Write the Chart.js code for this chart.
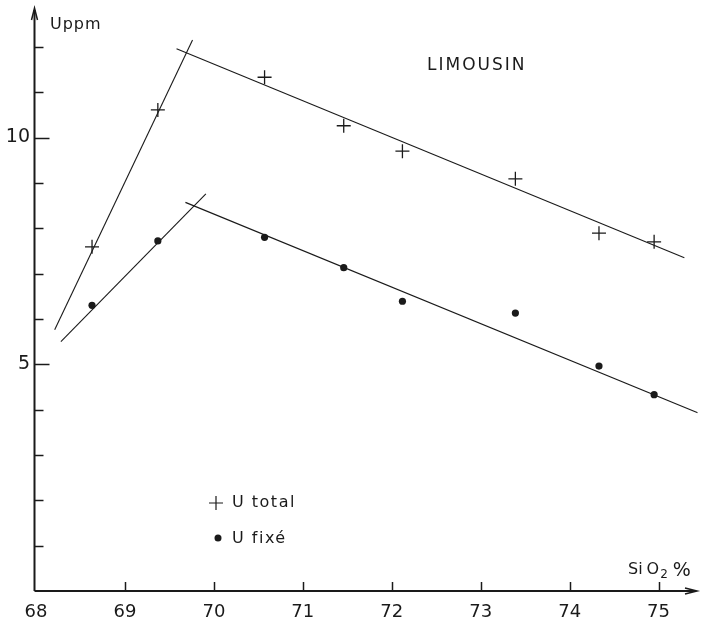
<!DOCTYPE html>
<html>
<head>
<meta charset="utf-8">
<script src="https://cdn.jsdelivr.net/npm/chart.js@4/dist/chart.umd.min.js"></script>
<style>
  html, body { margin: 0; padding: 0; background: #fff; }
  #wrap { width: 706px; height: 624px; position: relative; }
</style>
</head>
<body>
<div id="wrap"><canvas id="chart"></canvas></div>
<script>
// SiO2 % of each sample
const sio2 = [68.63, 69.37, 70.57, 71.46, 72.12, 73.39, 74.33, 74.95];
// U ppm
const uTotal = [7.59, 10.61, 11.33, 10.26, 9.70, 9.09, 7.89, 7.70];
const uFixe = [6.30, 7.72, 7.80, 7.13, 6.39, 6.13, 4.96, 4.33];

// hand-drawn trend lines (end points)
const totalRise = [[68.21, 5.76], [69.76, 12.15]];
const totalFall = [[69.58, 11.96], [75.29, 7.35]];
const fixeRise = [[68.28, 5.50], [69.91, 8.76]];
const fixeFall = [[69.68, 8.57], [75.44, 3.93]];

const xTicks = [68, 69, 70, 71, 72, 73, 74, 75];
const yTicks = [0, 1, 2, 3, 4, 5, 6, 7, 8, 9, 10, 11, 12];
const yLabelled = [5, 10];

const ink = '#1a1a1a';
const font = '"DejaVu Sans", "Liberation Sans", sans-serif';

const pts = (xs, ys) => xs.map((x, i) => ({ x: x, y: ys[i] }));
const seg = (s) => s.map(p => ({ x: p[0], y: p[1] }));

const lineSet = (s) => ({
  type: 'line',
  data: seg(s),
  borderColor: ink,
  borderWidth: 1.1,
  pointRadius: 0,
  fill: false
});

// axes with arrows, inward ticks, legend and captions
const decor = {
  id: 'decor',
  afterDraw(chart) {
    const ctx = chart.ctx;
    const xs = chart.scales.x;
    const ys = chart.scales.y;
    const x0 = chart.chartArea.left - 1.5;
    const y0 = ys.getPixelForValue(0);
    ctx.save();
    ctx.strokeStyle = ink;
    ctx.fillStyle = ink;
    ctx.lineWidth = 2;

    // y axis
    ctx.beginPath();
    ctx.moveTo(x0, y0);
    ctx.lineTo(x0, 10);
    ctx.stroke();
    ctx.lineWidth = 1.5;
    ctx.beginPath();
    ctx.moveTo(x0 - 3, 20);
    ctx.lineTo(x0, 8);
    ctx.lineTo(x0 + 3, 20);
    ctx.stroke();

    // x axis
    ctx.lineWidth = 2;
    ctx.beginPath();
    ctx.moveTo(x0, y0);
    ctx.lineTo(695, y0);
    ctx.stroke();
    ctx.lineWidth = 1.5;
    ctx.beginPath();
    ctx.moveTo(685, y0 - 3);
    ctx.lineTo(697, y0);
    ctx.lineTo(685, y0 + 3);
    ctx.stroke();

    // ticks
    ctx.lineWidth = 1.5;
    yTicks.forEach(v => {
      if (v === 0) return;
      const py = Math.round(ys.getPixelForValue(v)) + 0.5;
      const len = yLabelled.includes(v) ? 15 : 9;
      ctx.beginPath();
      ctx.moveTo(x0, py);
      ctx.lineTo(x0 + len, py);
      ctx.stroke();
    });
    xTicks.forEach(v => {
      if (v === 68) return;
      const px = Math.round(xs.getPixelForValue(v)) + 0.5;
      ctx.beginPath();
      ctx.moveTo(px, y0);
      ctx.lineTo(px, y0 - 9);
      ctx.stroke();
    });

    // captions
    ctx.textBaseline = 'middle';
    ctx.textAlign = 'left';
    ctx.font = '16px ' + font;
    ctx.letterSpacing = '1px';
    ctx.fillText('Uppm', 50, 25);

    ctx.font = '17px ' + font;
    ctx.letterSpacing = '2px';
    ctx.fillText('LIMOUSIN', 427, 66);

    // SiO2 %
    ctx.font = '16px ' + font;
    ctx.letterSpacing = '0px';
    let tx = 628;
    ctx.fillText('Si', tx, 570);
    tx += ctx.measureText('Si').width + 4;
    ctx.fillText('O', tx, 570);
    tx += ctx.measureText('O').width + 1;
    ctx.font = '12px ' + font;
    ctx.fillText('2', tx, 575);
    tx += ctx.measureText('2').width + 5;
    ctx.font = '19px ' + font;
    ctx.fillText('%', tx, 571);

    // legend
    ctx.lineWidth = 1.2;
    ctx.beginPath();
    ctx.moveTo(209, 503); ctx.lineTo(223, 503);
    ctx.moveTo(216, 496); ctx.lineTo(216, 510);
    ctx.stroke();
    ctx.beginPath();
    ctx.arc(218, 538, 3.5, 0, Math.PI * 2);
    ctx.fill();
    ctx.font = '16px ' + font;
    ctx.letterSpacing = '1.5px';
    ctx.fillText('U total', 232, 503);
    ctx.fillText('U fixé', 232, 539);
    ctx.restore();
  }
};

new Chart(document.getElementById('chart'), {
  type: 'scatter',
  data: {
    datasets: [
      {
        label: 'U total',
        data: pts(sio2, uTotal),
        pointStyle: 'cross',
        pointRadius: 7,
        borderColor: ink,
        borderWidth: 1.3,
        showLine: false
      },
      {
        label: 'U fixé',
        data: pts(sio2, uFixe),
        pointStyle: 'circle',
        pointRadius: 3.6,
        backgroundColor: ink,
        borderColor: ink,
        borderWidth: 0,
        showLine: false
      },
      lineSet(totalRise),
      lineSet(totalFall),
      lineSet(fixeRise),
      lineSet(fixeFall)
    ]
  },
  options: {
    responsive: true,
    maintainAspectRatio: false,
    animation: false,
    layout: { padding: 0 },
    plugins: {
      legend: { display: false },
      tooltip: { enabled: false }
    },
    scales: {
      x: {
        type: 'linear',
        min: 68,
        max: 75.44,
        afterBuildTicks: (s) => { s.ticks = xTicks.map(v => ({ value: v })); },
        afterFit: (s) => { s.height = 33; s.paddingLeft = 0; s.paddingRight = 0; },
        grid: { display: false, drawTicks: false },
        border: { display: false },
        ticks: {
          color: ink,
          padding: 11,
          font: { family: font, size: 18 },
          callback: (v) => String(v)
        }
      },
      y: {
        type: 'linear',
        min: 0,
        max: 12.85,
        afterBuildTicks: (s) => { s.ticks = yTicks.map(v => ({ value: v })); },
        afterFit: (s) => { s.width = 36; s.paddingTop = 0; s.paddingBottom = 0; },
        grid: { display: false, drawTicks: false },
        border: { display: false },
        ticks: {
          color: ink,
          padding: 6,
          font: { family: font, size: 19 },
          callback: (v) => yLabelled.includes(v) ? String(v) : ''
        }
      }
    }
  },
  plugins: [decor]
});
</script>
</body>
</html>
